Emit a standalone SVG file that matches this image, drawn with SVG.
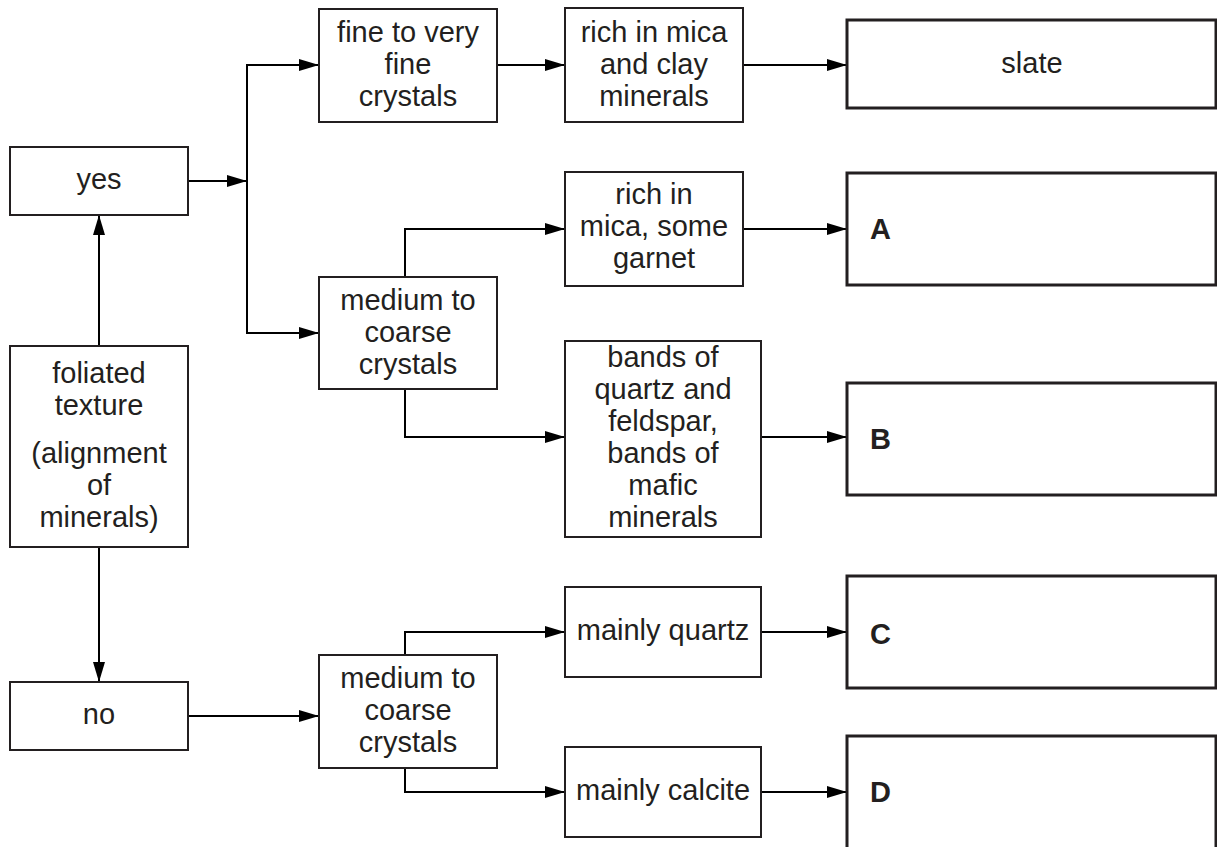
<svg xmlns="http://www.w3.org/2000/svg" width="1217" height="847" viewBox="0 0 1217 847">
<style>
  .box { fill: #ffffff; stroke: #231f20; stroke-width: 2; }
  .ans { fill: #ffffff; stroke: #231f20; stroke-width: 3; }
  .t { font-family: "Liberation Sans", Arial, sans-serif; font-size: 29px; fill: #231f20; text-anchor: middle; }
  .lbl { font-family: "Liberation Sans", Arial, sans-serif; font-size: 29px; font-weight: bold; fill: #231f20; }
  .c { fill: none; stroke: #000000; stroke-width: 2; }
  .ca { fill: none; stroke: #000000; stroke-width: 2; marker-end: url(#arr); }
</style>
<defs>
  <marker id="arr" markerUnits="userSpaceOnUse" markerWidth="20" markerHeight="12" refX="20" refY="6" orient="auto">
    <path d="M0,0 L20,6 L0,12 Z" fill="#000000"/>
  </marker>
</defs>
<rect width="1217" height="847" fill="#ffffff"/>

<g id="connectors">
  <path class="ca" d="M188,181 H247"/>
  <path class="ca" d="M247,181 V65 H319"/>
  <path class="ca" d="M247,181 V333 H319"/>
  <path class="ca" d="M99,346 V215"/>
  <path class="ca" d="M99,547 V682"/>
  <path class="ca" d="M497,65 H565"/>
  <path class="ca" d="M743,65 H847"/>
  <path class="ca" d="M405,277 V229 H565"/>
  <path class="ca" d="M743,229 H847"/>
  <path class="ca" d="M405,389 V437 H565"/>
  <path class="ca" d="M761,437 H847"/>
  <path class="ca" d="M188,716 H319"/>
  <path class="ca" d="M405,655 V632 H565"/>
  <path class="ca" d="M761,632 H847"/>
  <path class="ca" d="M405,768 V792 H565"/>
  <path class="ca" d="M761,792 H847"/>
</g>

<g id="yes">
  <rect class="box" x="10" y="147" width="178" height="68"/>
  <text class="t" x="99" y="189">yes</text>
</g>
<g id="foliated">
  <rect class="box" x="10" y="346" width="178" height="201"/>
  <text class="t" x="99" y="383">foliated</text>
  <text class="t" x="99" y="415">texture</text>
  <text class="t" x="99" y="463">(alignment</text>
  <text class="t" x="99" y="495">of</text>
  <text class="t" x="99" y="527">minerals)</text>
</g>
<g id="no">
  <rect class="box" x="10" y="682" width="178" height="68"/>
  <text class="t" x="99" y="724">no</text>
</g>
<g id="fine">
  <rect class="box" x="319" y="9" width="178" height="113"/>
  <text class="t" x="408" y="42">fine to very</text>
  <text class="t" x="408" y="74">fine</text>
  <text class="t" x="408" y="106">crystals</text>
</g>
<g id="medium1">
  <rect class="box" x="319" y="277" width="178" height="112"/>
  <text class="t" x="408" y="310">medium to</text>
  <text class="t" x="408" y="342">coarse</text>
  <text class="t" x="408" y="374">crystals</text>
</g>
<g id="medium2">
  <rect class="box" x="319" y="655" width="178" height="113"/>
  <text class="t" x="408" y="688">medium to</text>
  <text class="t" x="408" y="720">coarse</text>
  <text class="t" x="408" y="752">crystals</text>
</g>
<g id="richclay">
  <rect class="box" x="565" y="8" width="178" height="114"/>
  <text class="t" x="654" y="42">rich in mica</text>
  <text class="t" x="654" y="74">and clay</text>
  <text class="t" x="654" y="106">minerals</text>
</g>
<g id="richgarnet">
  <rect class="box" x="565" y="172" width="178" height="114"/>
  <text class="t" x="654" y="204">rich in</text>
  <text class="t" x="654" y="236">mica, some</text>
  <text class="t" x="654" y="268">garnet</text>
</g>
<g id="bands">
  <rect class="box" x="565" y="341" width="196" height="196"/>
  <text class="t" x="663" y="367">bands of</text>
  <text class="t" x="663" y="399">quartz and</text>
  <text class="t" x="663" y="431">feldspar,</text>
  <text class="t" x="663" y="463">bands of</text>
  <text class="t" x="663" y="495">mafic</text>
  <text class="t" x="663" y="527">minerals</text>
</g>
<g id="quartz">
  <rect class="box" x="565" y="587" width="196" height="90"/>
  <text class="t" x="663" y="640">mainly quartz</text>
</g>
<g id="calcite">
  <rect class="box" x="565" y="747" width="196" height="90"/>
  <text class="t" x="663" y="800">mainly calcite</text>
</g>
<g id="slate">
  <rect class="ans" x="847" y="20" width="369" height="88"/>
  <text class="t" x="1032" y="73">slate</text>
</g>
<g id="A">
  <rect class="ans" x="847" y="173" width="369" height="112"/>
  <text class="lbl" x="870" y="239">A</text>
</g>
<g id="B">
  <rect class="ans" x="847" y="383" width="369" height="112"/>
  <text class="lbl" x="870" y="449">B</text>
</g>
<g id="C">
  <rect class="ans" x="847" y="576" width="369" height="112"/>
  <text class="lbl" x="870" y="644">C</text>
</g>
<g id="D">
  <rect class="ans" x="847" y="736" width="369" height="114"/>
  <text class="lbl" x="870" y="802">D</text>
</g>
</svg>
